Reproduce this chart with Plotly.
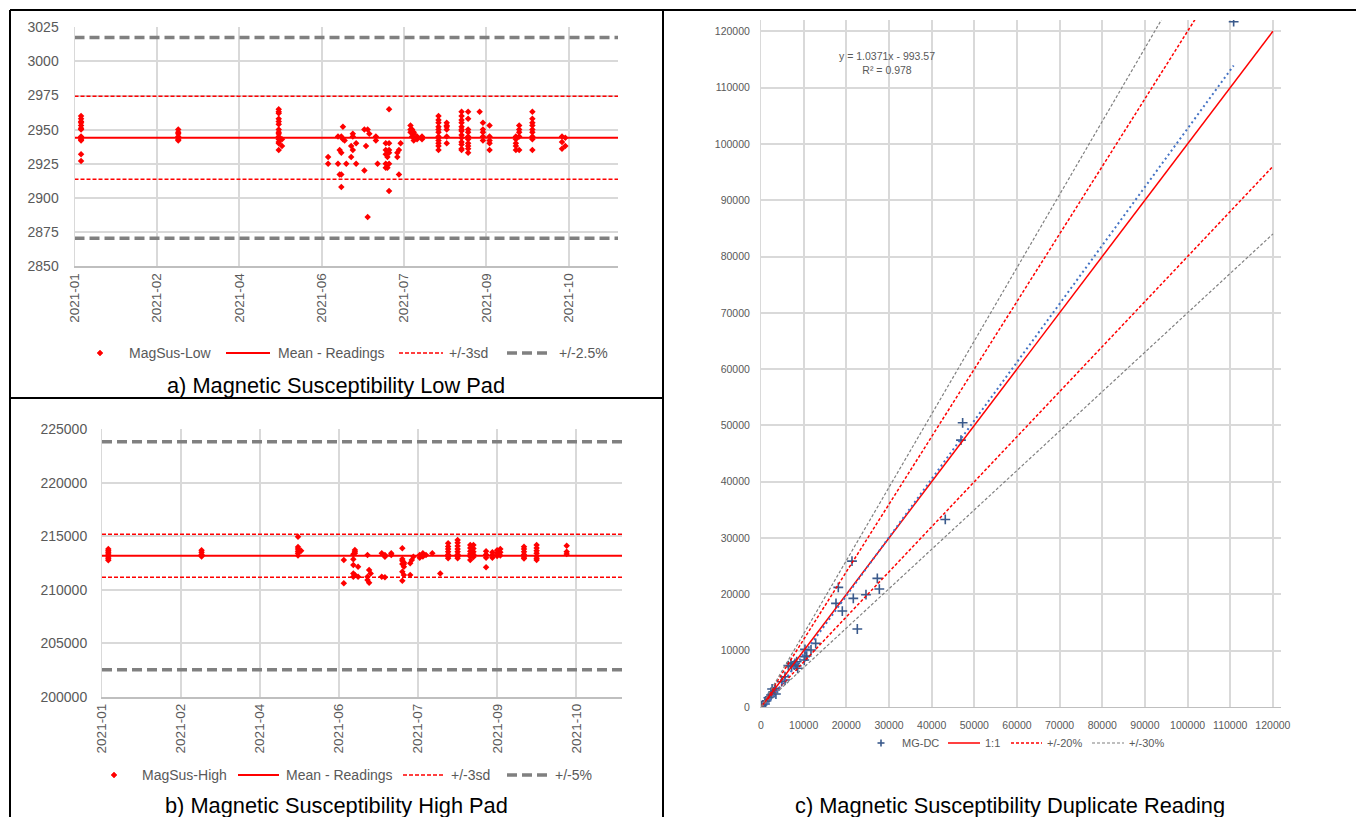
import plotly.graph_objects as go

W, H = 1356, 817

# ---- panel a: low pad readings (date, values) ----
low_dates = ["2021-01-07", "2021-03-07", "2021-05-07", "2021-05-09", "2021-06-06", "2021-06-12",
             "2021-06-13", "2021-06-14", "2021-06-15", "2021-06-16", "2021-06-17", "2021-06-20",
             "2021-06-21", "2021-06-23", "2021-06-28", "2021-06-29", "2021-06-30", "2021-07-01",
             "2021-07-05", "2021-07-06", "2021-07-11", "2021-07-12", "2021-07-13", "2021-07-18",
             "2021-07-19", "2021-07-20", "2021-07-26", "2021-07-27", "2021-07-28", "2021-07-30",
             "2021-08-02", "2021-08-12", "2021-08-17", "2021-08-26", "2021-08-30", "2021-09-06",
             "2021-09-08", "2021-09-12", "2021-09-28", "2021-09-30", "2021-10-08", "2021-10-26",
             "2021-10-28"]
low_vals = [
    [2960, 2958, 2956, 2955, 2953, 2951, 2950, 2945, 2944, 2943, 2942, 2932, 2927],
    [2950, 2948, 2947, 2945, 2943, 2942],
    [2965, 2963, 2962, 2958, 2956, 2954, 2950, 2948, 2947, 2945, 2943, 2941, 2940, 2935],
    [2943, 2938],
    [2930, 2925],
    [2945, 2925],
    [2935, 2917],
    [2933, 2917, 2908, 2945],
    [2952, 2943],
    [2942],
    [2925],
    [2938, 2930],
    [2935, 2947, 2945],
    [2940, 2925],
    [2950, 2920],
    [2938],
    [2950, 2886],
    [2947],
    [2945, 2942],
    [2925],
    [2940, 2935, 2925, 2922, 2932],
    [2930, 2922],
    [2965, 2933, 2925, 2905, 2940, 2935],
    [2933, 2930],
    [2935, 2917],
    [2940],
    [2953, 2950, 2948],
    [2950, 2945],
    [2947, 2948, 2942],
    [2945, 2943],
    [2945, 2943, 2944],
    [2960, 2957, 2955, 2952, 2950, 2948, 2945, 2944, 2942, 2940, 2938, 2935],
    [2955, 2953, 2952, 2950, 2945, 2940],
    [2963, 2960, 2957, 2955, 2952, 2950, 2949, 2946, 2944, 2941, 2939, 2936, 2935],
    [2963, 2958, 2950, 2948, 2945, 2943, 2940, 2938, 2936, 2933],
    [2963],
    [2955, 2950, 2948, 2945, 2942],
    [2953, 2945, 2942, 2940, 2935],
    [2945, 2943, 2940, 2938, 2935],
    [2953, 2950, 2948, 2945, 2935],
    [2963, 2958, 2955, 2953, 2950, 2948, 2945, 2943, 2935],
    [2945, 2941, 2936],
    [2944, 2938],
]
low_mean = 2944.0
low_3sd = [2974.4, 2913.6]
low_pct = [3017.6, 2870.4]

# ---- panel b: high pad readings ----
high_dates = ["2021-01-07", "2021-03-07", "2021-05-07", "2021-05-09", "2021-06-05", "2021-06-11",
              "2021-06-12", "2021-06-14", "2021-06-20", "2021-06-21", "2021-06-22", "2021-06-29",
              "2021-07-01", "2021-07-05", "2021-07-12", "2021-07-13", "2021-07-17", "2021-07-18",
              "2021-07-19", "2021-07-23", "2021-07-25", "2021-07-27", "2021-07-31", "2021-08-05",
              "2021-08-10", "2021-08-16", "2021-08-24", "2021-08-26", "2021-09-03", "2021-09-07",
              "2021-09-10", "2021-09-12", "2021-09-27", "2021-10-05", "2021-10-24"]
high_vals = [
    [213800, 213650, 213500, 213350, 213200, 213050, 212900, 212750],
    [213700, 213500, 213300, 213100],
    [214960, 214000, 213800, 213600, 213400, 213200],
    [213650],
    [212780, 210600],
    [213310, 212840, 212310, 211530, 211220],
    [213400, 213550, 213710, 211370],
    [212150, 211220],
    [213250, 211220, 210910],
    [211840, 210660],
    [211530],
    [213400, 211220],
    [213250, 213090, 211160],
    [213400, 213250],
    [213870, 212870, 212710, 212400, 211680, 210840],
    [212550, 212400, 212150, 211370],
    [212470, 211370],
    [212780],
    [213090],
    [213250, 213000],
    [213400, 213100],
    [213250],
    [213400],
    [211530],
    [214340, 214050, 213800, 213550, 213300, 213100, 212940],
    [214650, 214400, 214100, 213800, 213550, 213300, 213100, 212940],
    [214180, 213900, 213600, 213350, 213100, 212780],
    [214180, 213850, 213550, 213300, 213050],
    [213600, 213300, 213000, 212100],
    [213500, 213250, 213000],
    [213700, 213400, 213150],
    [213800, 213500, 213200],
    [214030, 213800, 213550, 213300, 213050, 212930],
    [214180, 213900, 213650, 213400, 213150, 212950, 212780],
    [214110, 213560, 213340],
]
high_mean = 213170.0
high_3sd = [215180, 211160]
high_pct = [223830, 202510]

# ---- panel c: duplicate readings ----
dup_orig = [110800, 47270, 46880, 43200, 21330, 27270, 27740, 24610, 21640, 18120, 17580, 19060,
            22580, 12820, 11720, 10310, 10710, 10150, 8370, 8600, 7800, 7190, 7030, 6400, 7970,
            8370, 10310, 5620, 5630, 4840, 3280, 3280, 2890, 2890, 2340, 2110, 1720, 940, 940,
            160, 0, 3500, 2600, 1300]
dup_rep = [121700, 50470, 47390, 33310, 25910, 22840, 20950, 19940, 19290, 21240, 18400, 17040,
           13850, 11300, 10120, 10240, 9050, 8340, 8040, 6870, 7460, 7160, 7750, 7340, 7750,
           7280, 8930, 5380, 4790, 4490, 3310, 3020, 2550, 2720, 2130, 1830, 1650, 940, 530,
           180, 0, 2300, 3200, 1100]
ref_x = [0, 120000]
trend_slope, trend_icpt = 1.0371, -993.57

FONT = "Liberation Sans, Arial, sans-serif"
GREY_TXT = "#595959"
GRID = "#d9d9d9"
RED = "#ff0000"
GREY_LINE = "#808080"
BLUE_PT = "#3a5a8c"
A_RANGE = ["2021-01-03", "2021-11-29"]
B_RANGE = ["2021-01-03", "2021-11-28"]

# line styles shared by the plotted series and the hand-drawn legends
STY = {
    "mean": dict(color=RED, width=2),
    "sd": dict(color=RED, width=1.5, dash="4px,2px"),
    "pct": dict(color=GREY_LINE, width=3.5, dash="10px,5px"),
    "one": dict(color=RED, width=1.5),
    "p20": dict(color=RED, width=1.5, dash="3px,2px"),
    "p30": dict(color=GREY_LINE, width=1.2, dash="3px,2px"),
}


def px_x(p):
    return p / W


def px_y(p):
    return 1 - p / H


def expand(dates, vals):
    xs, ys = [], []
    for d, vs in zip(dates, vals):
        for v in vs:
            xs.append(d)
            ys.append(v)
    return xs, ys


fig = go.Figure()


def add_control(xa, ya, dates, vals, mean, sd3, pct, rng):
    xs, ys = expand(dates, vals)
    fig.add_trace(go.Scatter(x=xs, y=ys, mode="markers", xaxis=xa, yaxis=ya,
                             marker=dict(symbol="diamond", size=5, color=RED)))
    fig.add_trace(go.Scatter(x=rng, y=[mean, mean], mode="lines", xaxis=xa, yaxis=ya,
                             line=STY["mean"]))
    fig.add_trace(go.Scatter(x=[rng[0], rng[1], None, rng[0], rng[1]],
                             y=[sd3[0], sd3[0], None, sd3[1], sd3[1]], mode="lines",
                             xaxis=xa, yaxis=ya, line=STY["sd"]))
    fig.add_trace(go.Scatter(x=[rng[0], rng[1], None, rng[0], rng[1]],
                             y=[pct[0], pct[0], None, pct[1], pct[1]], mode="lines",
                             xaxis=xa, yaxis=ya, line=STY["pct"]))


add_control("x", "y", low_dates, low_vals, low_mean, low_3sd, low_pct, A_RANGE)
add_control("x2", "y2", high_dates, high_vals, high_mean, high_3sd, high_pct, B_RANGE)

# panel c
fig.add_trace(go.Scatter(x=dup_orig, y=dup_rep, mode="markers", xaxis="x3", yaxis="y3",
                         marker=dict(symbol="cross-thin", size=7, color=BLUE_PT,
                                     line=dict(color=BLUE_PT, width=1.6))))
fig.add_trace(go.Scatter(x=ref_x, y=ref_x, mode="lines", xaxis="x3", yaxis="y3", line=STY["one"]))
fig.add_trace(go.Scatter(x=[0, 120000, None, 0, 120000], y=[0, 144000, None, 0, 96000], mode="lines",
                         xaxis="x3", yaxis="y3", line=STY["p20"]))
fig.add_trace(go.Scatter(x=[0, 120000, None, 0, 120000], y=[0, 156000, None, 0, 84000], mode="lines",
                         xaxis="x3", yaxis="y3", line=STY["p30"]))
tx = [min(dup_orig), max(dup_orig)]
fig.add_trace(go.Scatter(x=tx, y=[trend_slope * v + trend_icpt for v in tx], mode="lines",
                         xaxis="x3", yaxis="y3", hoverinfo="skip",
                         line=dict(color="#4472c4", width=2, dash="2px,3px")))

date_axis = dict(type="date", tick0="2021-01-03", dtick=50 * 86400000, tickformat="%Y-%m",
                 tickangle=-90, showgrid=True, gridcolor=GRID, gridwidth=1.5, showline=True,
                 linecolor="#bfbfbf", linewidth=1.5, ticks="", zeroline=False, automargin=False,
                 tickfont=dict(family=FONT, size=13.5, color=GREY_TXT))
val_axis = dict(showgrid=True, gridcolor=GRID, gridwidth=1.5, showline=True, linecolor="#d9d9d9",
                ticks="", zeroline=False, tickformat="d", automargin=False,
                tickfont=dict(family=FONT, size=14, color=GREY_TXT))
c_axis = dict(showgrid=True, gridcolor=GRID, gridwidth=1.5, showline=True, dtick=10000,
              tickformat="d", ticks="", zeroline=False, automargin=False,
              tickfont=dict(family=FONT, size=10.5, color=GREY_TXT))

fig.update_layout(
    width=W, height=H, margin=dict(l=0, r=0, t=0, b=0, pad=0), paper_bgcolor="white",
    plot_bgcolor="white", font=dict(family=FONT, color=GREY_TXT), showlegend=False,
    xaxis=dict(date_axis, domain=[px_x(74.5), px_x(618)], range=A_RANGE, anchor="y"),
    yaxis=dict(val_axis, domain=[px_y(266), px_y(27.3)], range=[2850, 3025], dtick=25, anchor="x",
               ticklabelstandoff=12),
    xaxis2=dict(date_axis, domain=[px_x(102), px_x(622)], range=B_RANGE, anchor="y2"),
    yaxis2=dict(val_axis, domain=[px_y(696.7), px_y(429.3)], range=[200000, 225000], dtick=5000,
                anchor="x2", ticklabelstandoff=11),
    xaxis3=dict(c_axis, domain=[px_x(761), px_x(1281)], range=[0, 121900], linecolor="#bfbfbf",
                anchor="y3", ticklabelstandoff=8),
    yaxis3=dict(c_axis, domain=[px_y(707), px_y(20)], range=[0, 122000], linecolor="#d9d9d9",
                anchor="x3", ticklabelstandoff=8),
)

# hand-drawn legends: (kind, x of symbol start, x of symbol end, x of text, label)
legend_a = [("diamond", 100, 100, 127, "MagSus-Low"), ("mean", 226, 270, 276, "Mean - Readings"),
            ("sd", 399, 443, 447, "+/-3sd"), ("pct", 507, 551, 557, "+/-2.5%")]
legend_b = [("diamond", 114, 114, 140, "MagSus-High"), ("mean", 238, 279, 284, "Mean - Readings"),
            ("sd", 403, 445, 449, "+/-3sd"), ("pct", 507, 549, 553, "+/-5%")]
legend_c = [("plus", 881, 881, 900, "MG-DC"), ("one", 948, 980, 983, "1:1"),
            ("p20", 1011, 1042, 1045, "+/-20%"), ("p30", 1092, 1124, 1127, "+/-30%")]


def draw_legend(items, yc, size):
    y = px_y(yc)
    for kind, x0, x1, xt, label in items:
        if kind == "diamond":
            r = 3
            path = (f"M {px_x(x0)} {px_y(yc - r)} L {px_x(x0 + r)} {y} "
                    f"L {px_x(x0)} {px_y(yc + r)} L {px_x(x0 - r)} {y} Z")
            fig.add_shape(type="path", path=path, xref="paper", yref="paper",
                          fillcolor=RED, line=dict(color=RED, width=0.5))
        elif kind == "plus":
            fig.add_shape(type="line", xref="paper", yref="paper", x0=px_x(x0 - 3.5), x1=px_x(x0 + 3.5),
                          y0=y, y1=y, line=dict(color=BLUE_PT, width=1.6))
            fig.add_shape(type="line", xref="paper", yref="paper", x0=px_x(x0), x1=px_x(x0),
                          y0=px_y(yc - 3.5), y1=px_y(yc + 3.5), line=dict(color=BLUE_PT, width=1.6))
        else:
            fig.add_shape(type="line", xref="paper", yref="paper", x0=px_x(x0), x1=px_x(x1),
                          y0=y, y1=y, line=STY[kind])
        fig.add_annotation(text=label, x=px_x(xt), y=y, xref="paper", yref="paper",
                           showarrow=False, xanchor="left", yanchor="middle",
                           font=dict(family=FONT, size=size, color=GREY_TXT))


draw_legend(legend_a, 353, 14)
draw_legend(legend_b, 775, 14)
draw_legend(legend_c, 743, 11)

captions = [("a) Magnetic Susceptibility Low Pad", 336, 385),
            ("b) Magnetic Susceptibility High Pad", 336, 805),
            ("c) Magnetic Susceptibility Duplicate Reading", 1010, 805)]
for text, cx, cy in captions:
    fig.add_annotation(text=text, x=px_x(cx), y=px_y(cy), xref="paper", yref="paper",
                       showarrow=False, xanchor="center", yanchor="middle",
                       font=dict(family=FONT, size=21.8, color="black"))

fig.add_annotation(text="y = 1.0371x - 993.57<br>R² = 0.978", x=px_x(887), y=px_y(63),
                   xref="paper", yref="paper", showarrow=False, xanchor="center", yanchor="middle",
                   font=dict(family=FONT, size=10.5, color=GREY_TXT))

# panel frame lines
borders = [(10, 10, 1356, 10), (10, 10, 10, 817), (663, 10, 663, 817), (10, 398, 663, 398)]
for x0, y0, x1, y1 in borders:
    fig.add_shape(type="line", xref="paper", yref="paper", x0=px_x(x0), y0=px_y(y0),
                  x1=px_x(x1), y1=px_y(y1), line=dict(color="black", width=2))

# page body margin would offset the figure by 8 px
fig.write_html("out.html", config={"displayModeBar": False},
               post_script="document.body.style.margin='0';"
                           "document.body.style.overflow='hidden';")
